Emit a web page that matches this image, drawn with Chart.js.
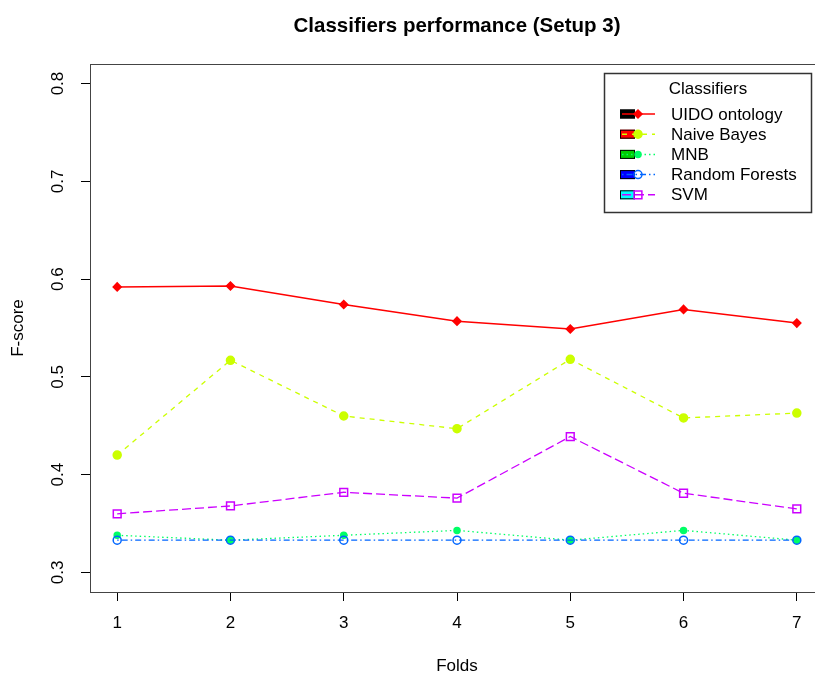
<!DOCTYPE html>
<html>
<head>
<meta charset="utf-8">
<title>Classifiers performance (Setup 3)</title>
<script src="https://cdn.jsdelivr.net/npm/chart.js@4.4.1/dist/chart.umd.min.js"></script>
<style>
  html, body { margin: 0; padding: 0; background: #ffffff; overflow: hidden; }
  #wrap { width: 815px; height: 673px; overflow: hidden; position: relative; }
  #c { position: absolute; left: 0; top: 0; }
</style>
</head>
<body>
<div id="wrap"><canvas id="c" width="914" height="673"></canvas></div>
<script>
// Folds on the x axis and F-score ticks on the y axis
const folds = [1, 2, 3, 4, 5, 6, 7];
const yTicks = [0.3, 0.4, 0.5, 0.6, 0.7, 0.8];

// F-score per fold for each classifier
const uido          = [0.592, 0.593, 0.574, 0.557, 0.549, 0.569, 0.555];
const naiveBayes    = [0.420, 0.517, 0.460, 0.447, 0.518, 0.458, 0.463];
const mnb           = [0.338, 0.333, 0.338, 0.343, 0.333, 0.343, 0.333];
const randomForests = [0.333, 0.333, 0.333, 0.333, 0.333, 0.333, 0.333];
const svm           = [0.360, 0.368, 0.382, 0.376, 0.439, 0.381, 0.365];

const seriesNames = ['UIDO ontology', 'Naive Bayes', 'MNB', 'Random Forests', 'SVM'];
const seriesValues = [uido, naiveBayes, mnb, randomForests, svm];
const legendFills = ['#000000', '#FF0000', '#00CD00', '#0000FF', '#00FFFF'];

const TITLE = 'Classifiers performance (Setup 3)';
const FONT = '"Liberation Sans", Arial, sans-serif';

// per-series look: colour, dash, marker
const styles = [
  { color: '#FF0000', dash: [],              point: 'rectRot', radius: 4,   fill: true  },
  { color: '#CCFF00', dash: [5, 5],          point: 'circle',  radius: 4,   fill: true  },
  { color: '#00FF66', dash: [1.5, 3],        point: 'circle',  radius: 3,   fill: true  },
  { color: '#0066FF', dash: [1.5, 3, 6, 3],  point: 'circle',  radius: 4,   fill: false },
  { color: '#CC00FF', dash: [9, 4],          point: 'rect',    radius: 5.5, fill: false }
];

const datasets = seriesNames.map((name, i) => ({
  label: name,
  data: folds.map((f, k) => ({ x: f, y: seriesValues[i][k] })),
  borderColor: styles[i].color,
  borderWidth: i === 0 ? 1.5 : 1.3,
  borderDash: styles[i].dash,
  tension: 0,
  fill: false,
  pointStyle: styles[i].point,
  pointRadius: styles[i].radius,
  pointBorderWidth: 1.5,
  pointBorderColor: styles[i].color,
  pointBackgroundColor: styles[i].fill ? styles[i].color : 'rgba(0,0,0,0)',
  order: seriesNames.length - 1 - i
}));

// main title, centred over the plotting region
const plotTitle = {
  id: 'plotTitle',
  afterDraw(chart) {
    const { ctx, chartArea: a } = chart;
    ctx.save();
    ctx.fillStyle = '#000000';
    ctx.font = 'bold 20.5px ' + FONT;
    ctx.textAlign = 'center';
    ctx.textBaseline = 'middle';
    ctx.fillText(TITLE, (a.left + a.right) / 2, 26);
    ctx.restore();
  }
};

// box around the plotting region
const frame = {
  id: 'frame',
  beforeDatasetsDraw(chart) {
    const { ctx, chartArea: a } = chart;
    ctx.save();
    ctx.strokeStyle = '#444444';
    ctx.lineWidth = 1;
    ctx.strokeRect(Math.round(a.left) + 0.5, Math.round(a.top) + 0.5,
                   Math.round(a.right - a.left), Math.round(a.bottom - a.top));
    ctx.restore();
  }
};

// legend box in the upper right of the plot
const boxLegend = {
  id: 'boxLegend',
  afterDraw(chart) {
    const { ctx, chartArea: a } = chart;
    const right = a.right - 13, top = a.top + 9;
    const w = 207, h = 139;
    const left = right - w;
    ctx.save();
    ctx.fillStyle = '#ffffff';
    ctx.fillRect(left, top, w, h);
    ctx.strokeStyle = '#333333';
    ctx.lineWidth = 1.5;
    ctx.strokeRect(left + 0.5, top + 0.5, w, h);

    ctx.fillStyle = '#000000';
    ctx.font = '17px ' + FONT;
    ctx.textBaseline = 'middle';
    ctx.textAlign = 'center';
    ctx.fillText('Classifiers', left + 104, top + 16);

    chart.data.datasets.forEach((ds, i) => {
      const y = top + 41 + i * 20.2;
      const bx = left + 16;
      // fill swatch
      ctx.setLineDash([]);
      ctx.fillStyle = legendFills[i];
      ctx.fillRect(bx, y - 4.5, 15, 9);
      ctx.strokeStyle = '#000000';
      ctx.lineWidth = 1;
      ctx.strokeRect(bx + 0.5, y - 4.5 + 0.5, 14, 8);
      // line sample
      ctx.strokeStyle = ds.borderColor;
      ctx.lineWidth = 1.5;
      ctx.setLineDash(ds.borderDash);
      ctx.beginPath();
      ctx.moveTo(bx + 2, y);
      ctx.lineTo(bx + 35, y);
      ctx.stroke();
      ctx.setLineDash([]);
      // marker
      ctx.fillStyle = ds.pointBackgroundColor;
      ctx.strokeStyle = ds.pointBorderColor;
      ctx.lineWidth = 1.5;
      Chart.helpers.drawPoint(ctx, {
        pointStyle: ds.pointStyle, rotation: 0,
        radius: ds.pointRadius, borderWidth: 1.5
      }, bx + 18, y);
      // text
      ctx.fillStyle = '#000000';
      ctx.textAlign = 'left';
      ctx.fillText(ds.label, left + 67, y + 1);
    });
    ctx.restore();
  }
};

const tickGrid = {
  display: true,
  drawOnChartArea: false,
  drawTicks: true,
  tickLength: 9,
  tickColor: '#000000',
  lineWidth: 1
};

new Chart(document.getElementById('c'), {
  type: 'line',
  data: { datasets },
  options: {
    responsive: false,
    animation: false,
    devicePixelRatio: 1,
    layout: { padding: { left: 0, right: 90, top: 64, bottom: 0 } },
    plugins: {
      legend: { display: false },
      tooltip: { enabled: false },
      title: { display: false }
    },
    scales: {
      x: {
        type: 'linear',
        min: 0.76,
        max: 7.24,
        afterBuildTicks: s => { s.ticks = folds.map(v => ({ value: v })); },
        afterFit: s => { s.height = 81; },
        grid: tickGrid,
        border: { display: true, color: '#444444', width: 1 },
        ticks: {
          color: '#000000',
          font: { family: FONT, size: 17 },
          padding: 12,
          minRotation: 0,
          maxRotation: 0,
          autoSkip: false,
          callback: v => String(v)
        },
        title: {
          display: true,
          text: 'Folds',
          color: '#000000',
          font: { family: FONT, size: 17, lineHeight: 0.8 },
          padding: 0
        }
      },
      y: {
        type: 'linear',
        min: 0.28,
        max: 0.82,
        afterBuildTicks: s => { s.ticks = yTicks.map(v => ({ value: v })); },
        afterFit: s => { s.width = 90; },
        grid: tickGrid,
        border: { display: true, color: '#444444', width: 1 },
        ticks: {
          color: '#000000',
          font: { family: FONT, size: 17 },
          padding: 11,
          minRotation: 90,
          maxRotation: 90,
          crossAlign: 'center',
          autoSkip: false,
          callback: v => Number(v).toFixed(1)
        },
        title: {
          display: true,
          text: 'F-score',
          color: '#000000',
          font: { family: FONT, size: 17, lineHeight: 1.2 },
          padding: { top: 8, bottom: 0 }
        }
      }
    }
  },
  plugins: [frame, plotTitle, boxLegend]
});
</script>
</body>
</html>
